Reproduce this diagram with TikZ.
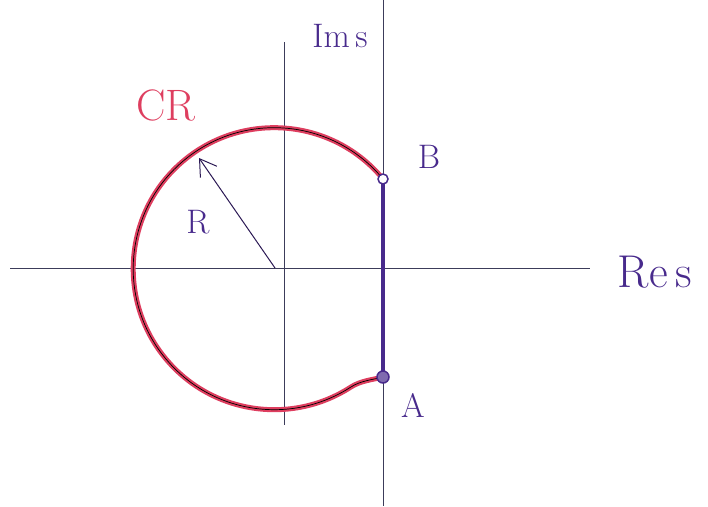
\documentclass[tikz,border=0pt]{standalone}
\usetikzlibrary{arrows.meta}
\definecolor{redc}{RGB}{222,62,95}
\definecolor{purp}{RGB}{72,42,140}
\definecolor{axisc}{RGB}{60,60,90}
\begin{document}
\begin{tikzpicture}[x=1pt,y=-1pt,
  axis/.style={axisc,line width=0.9pt},
  lbl/.style={purp,inner sep=0pt},
  big/.style={font=\fontsize{46}{48}\selectfont},
  mid/.style={font=\fontsize{34}{36}\selectfont}]
\useasboundingbox (0,0) rectangle (708,506);
% axes
\coordinate (xl) at (10,268);
\coordinate (xr) at (590,268);
\coordinate (yt) at (284,42);
\coordinate (yb) at (284,425);
\coordinate (vt) at (383,0);
\coordinate (vb) at (383,506);
\draw[axis] (xl) -- (xr);
\draw[axis] (yt) -- (yb);
\draw[axis] (vt) -- (vb);
% centre and arc
\coordinate (O) at (275,268);
\coordinate (B) at (383,179);
\coordinate (A) at (383,377);
\draw[redc,line width=5pt] (B) arc[start angle=-39.5,end angle=-303,radius=141] .. controls (361,380.5) and (374,379.5) .. (A);
\draw[black,line width=0.7pt] (B) arc[start angle=-39.5,end angle=-303,radius=141] .. controls (361,380.5) and (374,379.5) .. (A);
% segment A-B
\draw[purp,line width=4pt] (A) -- (B);
\node[draw=purp,fill=white,circle,line width=1.5pt,inner sep=0pt,minimum size=10pt] (Bc) at (B) {};
\node[draw=purp,fill=purp!70,circle,line width=1.5pt,inner sep=0pt,minimum size=12pt] (Ac) at (A) {};
% radius arrow
\coordinate (Rend) at (199,158);
\draw[purp!60!black,line width=1pt,-{Straight Barb[length=16pt,width=20pt]}] (O) -- (Rend);
% labels
\node[lbl,mid] (Im) at (340,36) {Im\,s};
\node[lbl,big] (Re) at (655,272) {Re\,s};
\node[redc,inner sep=0pt,font=\fontsize{44}{46}\selectfont] (CR) at (166,105) {CR};
\node[lbl,mid] (Bl) at (429,157) {B};
\node[lbl,mid] (Al) at (413,405) {A};
\node[lbl,mid] (Rl) at (198,222) {R};
\end{tikzpicture}
\end{document}
